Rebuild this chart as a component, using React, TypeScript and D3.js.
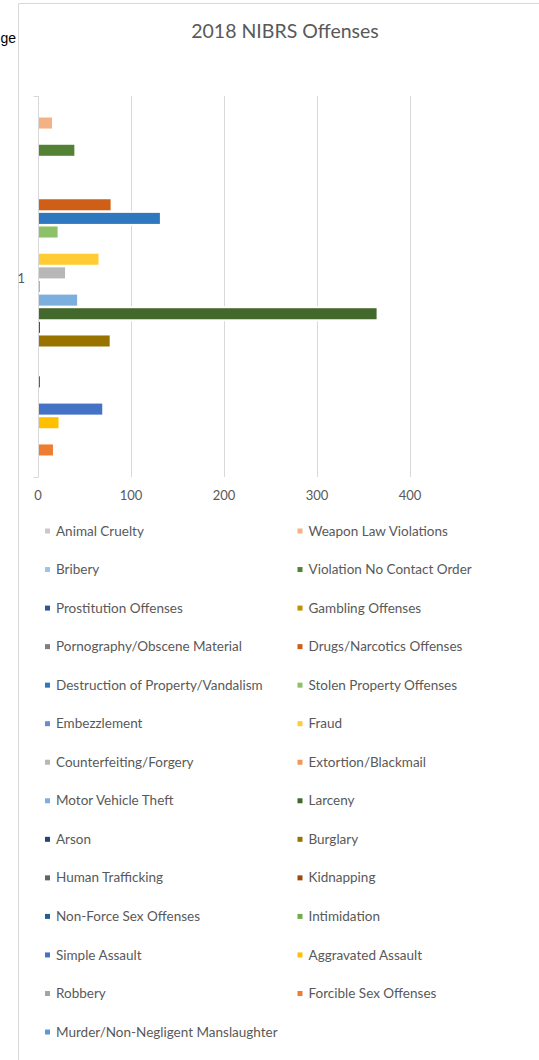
import React, { useEffect, useRef } from "react";
import * as d3 from "d3";

const title = "2018 NIBRS Offenses";
const category = "1";
const seriesNames = [
  "Animal Cruelty", "Weapon Law Violations", "Bribery", "Violation No Contact Order",
  "Prostitution Offenses", "Gambling Offenses", "Pornography/Obscene Material", "Drugs/Narcotics Offenses",
  "Destruction of Property/Vandalism", "Stolen Property Offenses", "Embezzlement", "Fraud",
  "Counterfeiting/Forgery", "Extortion/Blackmail", "Motor Vehicle Theft", "Larceny",
  "Arson", "Burglary", "Human Trafficking", "Kidnapping",
  "Non-Force Sex Offenses", "Intimidation", "Simple Assault", "Aggravated Assault",
  "Robbery", "Forcible Sex Offenses", "Murder/Non-Negligent Manslaughter",
];
const seriesValues = [
  0, 14, 0, 38,
  0, 0, 0, 77,
  130, 20, 0, 64,
  28, 1, 41, 363,
  1, 76, 0, 0,
  1, 0, 68, 21,
  0, 15, 0,
];
const seriesColors = [
  "#C9C9C9", "#F4B183", "#9DC3E6", "#548235",
  "#2F5597", "#BF9000", "#7F7F7F", "#CF5F16",
  "#2F78C0", "#8CC168", "#698ED0", "#FFCD33",
  "#B7B7B7", "#F1975A", "#7CAFDD", "#43682B",
  "#264478", "#997300", "#636363", "#9E480E",
  "#255E91", "#70AD47", "#4472C4", "#FFC000",
  "#A5A5A5", "#ED7D31", "#5B9BD5",
];
const xTicks = [0, 100, 200, 300, 400];

const FONT = "Lato, 'Open Sans', sans-serif";

export default function App() {
  const ref = useRef<SVGSVGElement | null>(null);

  useEffect(() => {
    document.body.style.margin = "0";
    const svg = d3.select(ref.current);
    svg.selectAll("*").remove();

    const W = 539, H = 1060;
    const plot = { left: 38, right: 410, top: 96, bottom: 477 };

    const x = d3.scaleLinear().domain([0, 400]).range([plot.left, plot.right]);
    const y = d3.scaleBand<string>()
      .domain(seriesNames)
      .range([plot.top, plot.bottom])
      .paddingInner(0.19)
      .paddingOuter(0.58);

    svg.append("rect").attr("width", W).attr("height", H).attr("fill", "#fff");

    // text partially hidden behind the chart area
    svg.append("text").attr("x", 0.5).attr("y", 43).attr("text-anchor", "start")
      .attr("font-family", "Arial, 'Liberation Sans', sans-serif").attr("font-size", 14)
      .attr("fill", "#000").text("ge");

    // chart area border
    svg.append("path").attr("d", `M18.5,${H} V3.5 H${W}`)
      .attr("fill", "#fff").attr("stroke", "#D9D9D9").attr("stroke-width", 1);

    // title
    svg.append("text").attr("x", 285).attr("y", 37.5).attr("text-anchor", "middle")
      .attr("font-family", FONT).attr("font-size", 19.5).attr("fill", "#595959").text(title);

    // gridlines
    const g = svg.append("g");
    g.selectAll("line.grid").data(xTicks.filter(t => t > 0)).join("line")
      .attr("class", "grid")
      .attr("x1", d => Math.round(x(d)) + 0.5).attr("x2", d => Math.round(x(d)) + 0.5)
      .attr("y1", plot.top).attr("y2", plot.bottom)
      .attr("stroke", "#D9D9D9").attr("stroke-width", 1);

    // category axis line + ticks
    g.append("line").attr("x1", x(0) + 0.5).attr("x2", x(0) + 0.5)
      .attr("y1", plot.top).attr("y2", plot.bottom)
      .attr("stroke", "#D9D9D9").attr("stroke-width", 1);
    [plot.top, plot.bottom].forEach(yy => {
      g.append("line").attr("x1", x(0) - 4.5).attr("x2", x(0) + 0.5)
        .attr("y1", yy + 0.5).attr("y2", yy + 0.5)
        .attr("stroke", "#D9D9D9").attr("stroke-width", 1);
    });

    // bars (white halo behind, as in Excel's bar outline)
    const data = seriesNames.map((name, i) => ({ name, value: seriesValues[i], color: seriesColors[i] }));
    const bars = g.append("g");
    bars.selectAll("rect.halo").data(data.filter(d => d.value > 0)).join("rect")
      .attr("class", "halo")
      .attr("x", x(0) + 1)
      .attr("y", d => (y(d.name) as number) - 2)
      .attr("width", d => Math.max(0.8, x(d.value) - x(0)) + 2)
      .attr("height", y.bandwidth() + 4)
      .attr("fill", "#fff");
    bars.selectAll("rect.bar").data(data.filter(d => d.value > 0)).join("rect")
      .attr("class", "bar")
      .attr("x", x(0) + 1)
      .attr("y", d => y(d.name) as number)
      .attr("width", d => Math.max(0.8, x(d.value) - x(0)))
      .attr("height", y.bandwidth())
      .attr("fill", d => d.color);

    // category label
    svg.append("text").attr("x", 25).attr("y", 282.5).attr("text-anchor", "end")
      .attr("font-family", FONT).attr("font-size", 13).attr("fill", "#595959").text(category);

    // value tick labels
    svg.selectAll("text.xt").data(xTicks).join("text")
      .attr("class", "xt")
      .attr("x", d => x(d)).attr("y", 500)
      .attr("text-anchor", "middle")
      .attr("font-family", FONT).attr("font-size", 13).attr("fill", "#595959")
      .text(d => String(d));

    // legend
    const colX = [45, 297.5];
    const rowY = (r: number) => 531 + r * 38.54;
    const leg = svg.append("g");
    data.forEach((d, i) => {
      const col = i % 2, row = Math.floor(i / 2);
      const cy = rowY(row);
      leg.append("rect").attr("x", colX[col]).attr("y", cy - 2.5).attr("width", 5).attr("height", 5)
        .attr("fill", d.color);
      leg.append("text").attr("x", colX[col] + 11).attr("y", cy + 4.6)
        .attr("font-family", FONT).attr("font-size", 13.5).attr("fill", "#595959").text(d.name);
    });
  }, []);

  return (
    <svg ref={ref} width={539} height={1060}
      style={{ display: "block", position: "absolute", left: 0, top: 0 }} />
  );
}
